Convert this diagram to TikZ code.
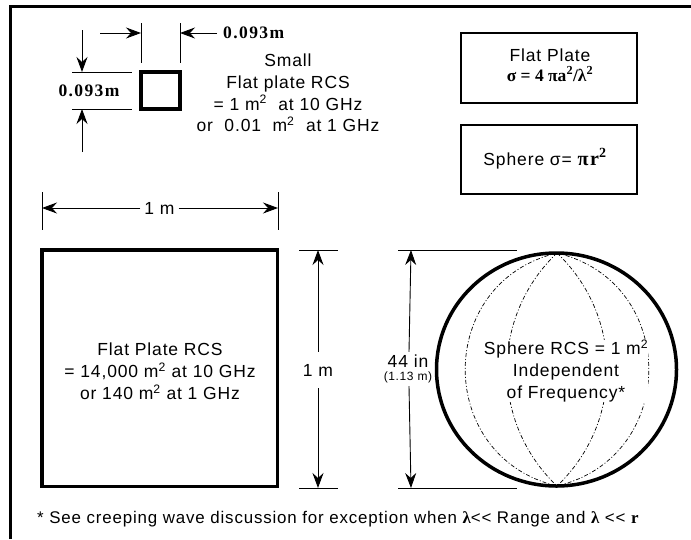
\documentclass[tikz,border=0pt]{standalone}
\usepackage{fontspec}
\setmainfont{Liberation Sans}[LetterSpace=5]
\newfontfamily\serb{Liberation Serif}[LetterSpace=8]
\newfontfamily\serf{Liberation Serif}
\usetikzlibrary{arrows.meta}
\begin{document}
\begin{tikzpicture}[x=1pt,y=-1pt,
  txt/.style={font=\fontsize{17.5}{21.8}\selectfont, align=center, inner sep=0pt},
  smalltxt/.style={font=\fontsize{12}{14}\selectfont, align=center, inner sep=0pt},
  dimtxt/.style={font=\serb\bfseries\fontsize{17.5}{18}\selectfont, inner sep=0pt},
  dim/.style={line width=0.9pt, -{Stealth[length=15pt,width=11pt,inset=5pt]}},
  ext/.style={line width=0.9pt},
  thickbox/.style={draw, line width=3.5pt, inner sep=0pt},
  formbox/.style={draw, line width=1.3pt, minimum width=176pt, minimum height=70pt, inner sep=0pt},
  lens/.style={line width=0.7pt, dash pattern=on 4pt off 2pt on 1pt off 2pt}
]
\useasboundingbox (0,0) rectangle (691,539);
% frame
\coordinate (fbl) at (10,539);
\coordinate (ftl) at (10,6);
\coordinate (ftr) at (691,6);
\draw[line width=3pt] (fbl) -- (ftl) -- (ftr);

% ---------- small plate ----------
\node[thickbox, minimum width=39pt, minimum height=37pt] (ssq) at (160.5,90.5) {};
\coordinate (ex1a) at (141,23); \coordinate (ex1b) at (141,63);
\coordinate (ex2a) at (180,23); \coordinate (ex2b) at (180,63);
\draw[ext] (ex1a) -- (ex1b);
\draw[ext] (ex2a) -- (ex2b);
\coordinate (ta0) at (100,33); \coordinate (ta1) at (141,33);
\coordinate (tb0) at (217,33); \coordinate (tb1) at (180,33);
\draw[dim] (ta0) -- (ta1);
\draw[dim] (tb0) -- (tb1);
\node[dimtxt, anchor=west] (lbtop) at (223,33) {0.093m};

\coordinate (ey1a) at (72,72); \coordinate (ey1b) at (132,72);
\coordinate (ey2a) at (72,109); \coordinate (ey2b) at (132,109);
\draw[ext] (ey1a) -- (ey1b);
\draw[ext] (ey2a) -- (ey2b);
\coordinate (la0) at (82,30); \coordinate (la1) at (82,72);
\coordinate (lb0) at (82,152); \coordinate (lb1) at (82,109);
\draw[dim] (la0) -- (la1);
\draw[dim] (lb0) -- (lb1);
\node[dimtxt] (lbleft) at (89,90.5) {0.093m};

\node[txt] (smalltext) at (288,93) {Small\\Flat plate RCS\\= 1 m\textsuperscript{2}\ \ at 10 GHz\\or\ \ 0.01\ \ m\textsuperscript{2}\ \ at 1 GHz};

% ---------- formula boxes ----------
\node[formbox] (fpbox) at (549,68) {};
\node[txt, font=\fontsize{17.5}{20}\selectfont] (fptext) at (550,65) {Flat Plate\\{\serf\bfseries σ = 4 πa\textsuperscript{2}/λ\textsuperscript{2}}};
\node[formbox, minimum height=69pt] (spbox) at (549,159.5) {};
\node[txt] (sptext) at (545,158.5) {Sphere σ= {\serb\bfseries\fontsize{20}{20}\selectfont πr\textsuperscript{2}}};

% ---------- large plate ----------
\coordinate (hx1a) at (42,192); \coordinate (hx1b) at (42,230);
\coordinate (hx2a) at (278,192); \coordinate (hx2b) at (278,230);
\draw[ext] (hx1a) -- (hx1b);
\draw[ext] (hx2a) -- (hx2b);
\node[txt, minimum width=38pt, minimum height=14pt] (onemh) at (159.5,208) {1 m};
\coordinate (ha) at (42,208); \coordinate (hb) at (278,208);
\draw[dim] (onemh.west) -- (ha);
\draw[dim] (onemh.east) -- (hb);

\node[thickbox, minimum width=235.5pt, minimum height=236.5pt] (bsq) at (159.75,368.25) {};
\node[txt] (bigtext) at (160,371.5) {Flat Plate RCS\\= 14,000 m\textsuperscript{2} at 10 GHz\\or 140 m\textsuperscript{2} at 1 GHz};

\coordinate (vx1a) at (299,250); \coordinate (vx1b) at (338,250);
\coordinate (vx2a) at (299,488); \coordinate (vx2b) at (338,488);
\draw[ext] (vx1a) -- (vx1b);
\draw[ext] (vx2a) -- (vx2b);
\node[txt, minimum height=36pt] (onemv) at (318,370) {1 m};
\coordinate (va) at (318,250); \coordinate (vb) at (318,488);
\draw[dim] (onemv.north) -- (va);
\draw[dim] (onemv.south) -- (vb);

% ---------- sphere ----------
\coordinate (sx1a) at (398,250); \coordinate (sx1b) at (517,250);
\coordinate (sx2a) at (398,488); \coordinate (sx2b) at (517,488);
\draw[ext] (sx1a) -- (sx1b);
\draw[ext] (sx2a) -- (sx2b);
\node[inner sep=0pt, minimum height=34pt, minimum width=46pt] (sdlab) at (409,369) {};
\node[txt] (sd44) at (408,361) {44 in};
\node[smalltxt] (sd113) at (408,377) {(1.13 m)};
\coordinate (sva) at (411,250); \coordinate (svb) at (411,488);
\draw[dim] (sdlab.north) -- (sva);
\draw[dim] (sdlab.south) -- (svb);

\coordinate (sc) at (556.5,369.5);
\coordinate (stop) at (557,253);
\coordinate (sbot) at (557,486);
\draw[lens] (stop) .. controls (434.6,282.2) and (434.6,456.8) .. (sbot);
\draw[lens] (stop) .. controls (679.4,282.2) and (679.4,456.8) .. (sbot);
\draw[lens] (stop) .. controls (490.2,316.5) and (490.2,422.5) .. (sbot);
\draw[lens] (stop) .. controls (623.8,316.5) and (623.8,422.5) .. (sbot);
\draw[line width=3.5pt] (sc) ellipse [x radius=120pt, y radius=116.5pt];
\node[txt, fill=white] (sphtext) at (566,371) {Sphere RCS = 1 m\textsuperscript{2}\\Independent\\of Frequency*};

% ---------- footnote ----------
\node[txt, anchor=west, font=\fontsize{16.9}{20}\selectfont] (foot) at (37,519) {* See creeping wave discussion for exception when {\serf\bfseries λ}<{}< Range and {\serf\bfseries λ} <{}< {\serf\bfseries r}};
\end{tikzpicture}
\end{document}
